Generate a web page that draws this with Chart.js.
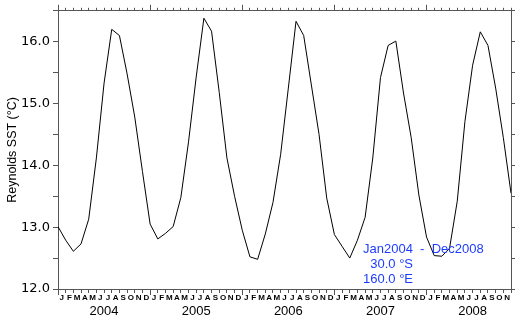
<!DOCTYPE html>
<html lang="en">

<head>
    <meta charset="UTF-8">
    <title>Reynolds SST</title>
    <script src="https://cdn.jsdelivr.net/npm/chart.js@4.4.0/dist/chart.umd.min.js"></script>
    <style>
        html, body { margin: 0; padding: 0; background: #fff; }
        canvas { display: block; }
    </style>
</head>

<body>
    <canvas id="sst" width="520" height="320"></canvas>

<script>
    // valores (medias mensais)
    var years = ['2004', '2005', '2006', '2007', '2008'];
    var monthLetters = ['J', 'F', 'M', 'A', 'M', 'J', 'J', 'A', 'S', 'O', 'N', 'D'];
    var sst2004 = [13.01, 12.79, 12.61, 12.73, 13.13, 14.12, 15.33, 16.20, 16.10, 15.48, 14.78, 13.90];
    var sst2005 = [13.05, 12.81, 12.90, 13.01, 13.48, 14.38, 15.43, 16.38, 16.17, 15.18, 14.12, 13.50];
    var sst2006 = [12.95, 12.52, 12.48, 12.89, 13.40, 14.18, 15.25, 16.33, 16.10, 15.30, 14.50, 13.47];
    var sst2007 = [12.88, 12.69, 12.50, 12.79, 13.16, 14.12, 15.42, 15.94, 16.01, 15.17, 14.45, 13.52];
    var sst2008 = [12.84, 12.54, 12.53, 12.66, 13.42, 14.71, 15.62, 16.16, 15.94, 15.25, 14.45, 13.55];
    var yMin = 12.0;
    var yMax = 16.5;
    var yStep = 0.5;
    var yTitle = 'Reynolds SST (\u00B0C)';
    var infoLines = ['Jan2004  -  Dec2008', '30.0 \u00B0S', '160.0 \u00B0E'];

    var axisColor = '#555';
    var infoColor = 'rgb(30, 60, 255)';

    var sst = [].concat(sst2004, sst2005, sst2006, sst2007, sst2008);
    var pontos = sst.map(function (v, i) { return { x: i, y: v }; });
    var nMeses = sst.length - 1;

    // um tick por mes (0..59) e um rotulo entre cada par de ticks
    function ticksMeses(s) {
        s.ticks = sst.map(function (v, i) { return { value: i }; });
    }
    function ticksLetras(s) {
        s.ticks = sst.slice(0, nMeses).map(function (v, i) { return { value: i }; });
    }

    // tick curto para os meses, longo em janeiro
    function dashBottom(ctx) {
        if (ctx.tick && ctx.tick.value % 12 === 0) return [];
        return [3, 20];
    }
    function dashTop(ctx) {
        if (ctx.tick && ctx.tick.value % 12 === 0) return [];
        return [0, 3, 3, 20];
    }

    var infoPlugin = {
        id: 'infoText',
        afterDraw: function (chart) {
            var c = chart.ctx;
            var a = chart.chartArea;
            c.save();
            c.fillStyle = infoColor;
            c.font = '13px "Liberation Sans", Arial, sans-serif';
            c.textBaseline = 'alphabetic';
            c.textAlign = 'left';
            c.fillText(infoLines[0], a.right - 148, a.bottom - 36);
            c.textAlign = 'right';
            c.fillText(infoLines[1], a.right - 98, a.bottom - 21);
            c.fillText(infoLines[2], a.right - 98, a.bottom - 6);
            c.restore();
        }
    };

    var grafico = new Chart(document.getElementById('sst'), {
        type: 'line',
        data: {
            datasets: [{
                data: pontos,
                xAxisID: 'x',
                yAxisID: 'y',
                borderColor: '#000',
                borderWidth: 1,
                pointRadius: 0,
                tension: 0,
                fill: false
            }]
        },
        options: {
            responsive: false,
            animation: false,
            devicePixelRatio: 1,
            layout: { padding: 0 },
            plugins: {
                legend: { display: false },
                tooltip: { enabled: false }
            },
            scales: {
                x: {
                    type: 'linear',
                    position: 'bottom',
                    weight: 0,
                    min: 0,
                    max: nMeses,
                    afterBuildTicks: ticksMeses,
                    ticks: { display: false, autoSkip: false },
                    grid: {
                        drawOnChartArea: false,
                        tickLength: 6,
                        tickColor: axisColor,
                        tickBorderDash: dashBottom
                    },
                    border: { color: axisColor },
                    afterFit: function (s) { s.height = 4; }
                },
                xm: {
                    type: 'linear',
                    position: 'bottom',
                    weight: 1,
                    min: -0.5,
                    max: nMeses - 0.5,
                    afterBuildTicks: ticksLetras,
                    grid: { display: false, drawTicks: false },
                    border: { display: false },
                    ticks: {
                        autoSkip: false,
                        maxRotation: 0,
                        minRotation: 0,
                        padding: 0,
                        color: '#000',
                        font: { family: '"Liberation Sans", Arial, sans-serif', size: 8, weight: 'bold' },
                        callback: function (v) { return monthLetters[v % 12]; }
                    },
                    afterFit: function (s) { s.height = 11; }
                },
                xy: {
                    type: 'linear',
                    position: 'bottom',
                    weight: 2,
                    min: 0,
                    max: nMeses,
                    grid: { display: false, drawTicks: false },
                    border: { display: false },
                    afterBuildTicks: function (s) {
                        s.ticks = years.map(function (y, i) { return { value: 6 + 12 * i }; });
                    },
                    ticks: {
                        autoSkip: false,
                        maxRotation: 0,
                        padding: 0,
                        color: '#000',
                        font: { family: '"Liberation Sans", Arial, sans-serif', size: 13 },
                        callback: function (v) { return years[(v - 6) / 12]; }
                    },
                    afterFit: function (s) { s.height = 16; }
                },
                xt: {
                    type: 'linear',
                    position: 'top',
                    min: 0,
                    max: nMeses,
                    afterBuildTicks: ticksMeses,
                    ticks: { display: false, autoSkip: false },
                    grid: {
                        drawOnChartArea: false,
                        tickLength: 6,
                        tickColor: axisColor,
                        tickBorderDash: dashTop
                    },
                    border: { color: axisColor },
                    afterFit: function (s) { s.height = 8; }
                },
                y: {
                    type: 'linear',
                    position: 'left',
                    min: yMin,
                    max: yMax,
                    ticks: {
                        stepSize: yStep,
                        padding: 3,
                        color: '#000',
                        font: { family: '"DejaVu Sans", sans-serif', size: 13 },
                        callback: function (v) { return Number.isInteger(v) ? v.toFixed(1) : ''; }
                    },
                    grid: { drawOnChartArea: false, tickLength: 5, tickColor: axisColor },
                    border: { color: axisColor },
                    title: {
                        display: true,
                        text: yTitle,
                        color: '#000',
                        padding: { top: 5, bottom: 0 },
                        font: { family: '"Liberation Sans", Arial, sans-serif', size: 12.5 }
                    },
                    afterFit: function (s) { s.width = 58; }
                },
                yr: {
                    type: 'linear',
                    position: 'right',
                    min: yMin,
                    max: yMax,
                    ticks: { display: false, stepSize: yStep },
                    grid: { drawOnChartArea: false, tickLength: 4, tickColor: axisColor },
                    border: { color: axisColor },
                    afterFit: function (s) { s.width = 9; }
                }
            }
        },
        plugins: [infoPlugin]
    });
</script>
</body>

</html>
